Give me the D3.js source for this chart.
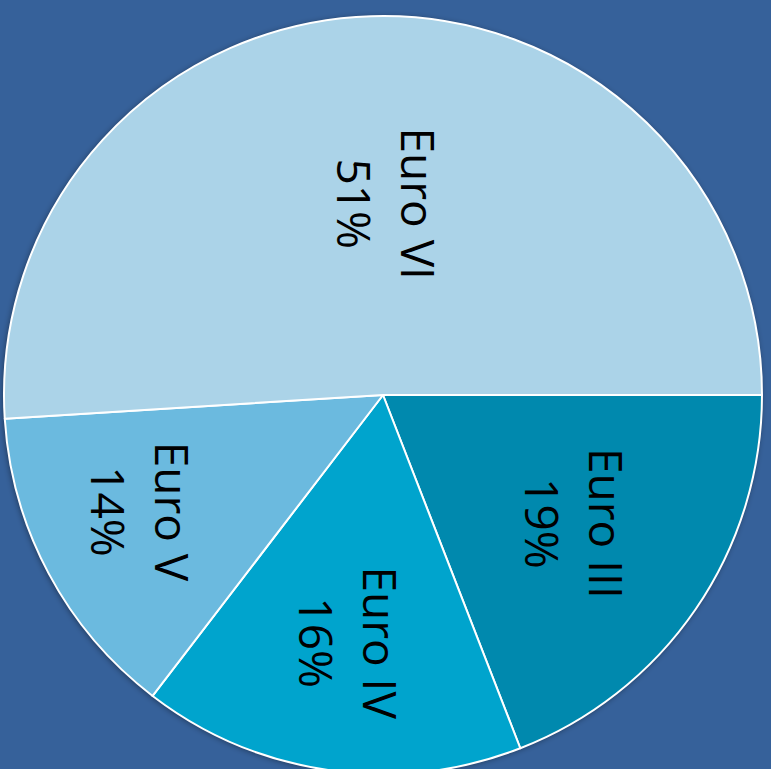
<!DOCTYPE html>
<html>
<head>
<meta charset="utf-8">
<script src="https://cdn.jsdelivr.net/npm/d3@7"></script>
<style>
  html, body { margin: 0; padding: 0; background: #36619a; }
  svg { display: block; }
</style>
</head>
<body>
<script>
var width = 771,
    height = 769;

// data, clockwise from 3 o'clock
var categories = ["Euro III", "Euro IV", "Euro V", "Euro VI"];
var shares = [19.1, 16.3, 13.6, 51.0];
var colors = ["#0089ae", "#00a4cd", "#6bbadf", "#abd3e8"];

// how far out each label sits (share of radius) and a small pixel nudge
var labelRadius = [0.60, 0.66, 0.72, 0.505];
var labelNudge = [[2, 0], [-1, 0], [-3, -12], [8, 0]];

var cx = 383,
    cy = 395,
    radius = 379,
    fontPx = 46,
    lineGap = 64;

var data = categories.map(function(c, i) {
    return { name: c, value: shares[i], color: colors[i], lr: labelRadius[i], nudge: labelNudge[i] };
});

var svg = d3.select("body").append("svg")
    .attr("width", width)
    .attr("height", height);

var defs = svg.append("defs");
var shadow = defs.append("filter")
    .attr("id", "shadow")
    .attr("x", "-10%").attr("y", "-10%")
    .attr("width", "120%").attr("height", "120%");
shadow.append("feDropShadow")
    .attr("dx", -1).attr("dy", 1)
    .attr("stdDeviation", 3)
    .attr("flood-color", "#000")
    .attr("flood-opacity", 0.45);

var pie = d3.pie()
    .sort(null)
    .value(function(d) { return d.value; })
    .startAngle(Math.PI / 2)
    .endAngle(Math.PI / 2 + 2 * Math.PI);

var arcs = pie(data);

var arc = d3.arc()
    .innerRadius(0)
    .outerRadius(radius);

var g = svg.append("g")
    .attr("transform", "translate(" + cx + "," + cy + ")");

// shadow behind the pie
g.append("circle")
    .attr("r", radius)
    .attr("fill", "#abd3e8")
    .attr("filter", "url(#shadow)");

g.selectAll("path")
    .data(arcs)
    .enter().append("path")
    .attr("d", arc)
    .style("fill", function(d) { return d.data.color; })
    .style("stroke", "#ffffff")
    .style("stroke-width", "2")
    .style("stroke-linejoin", "round");

var labels = g.selectAll("g.label")
    .data(arcs)
    .enter().append("g")
    .attr("class", "label")
    .attr("transform", function(d) {
        var la = d3.arc()
            .innerRadius(radius * d.data.lr)
            .outerRadius(radius * d.data.lr);
        var c = la.centroid(d);
        return "translate(" + (c[0] + d.data.nudge[0]) + "," + (c[1] + d.data.nudge[1]) + ") rotate(90)";
    });

var text = labels.append("text")
    .attr("text-anchor", "middle")
    .attr("font-family", "'Open Sans', 'DejaVu Sans', sans-serif")
    .attr("font-size", fontPx + "px")
    .attr("fill", "#000000");

text.append("tspan")
    .attr("x", 0)
    .attr("y", -lineGap / 2)
    .attr("dy", "0.35em")
    .text(function(d) { return d.data.name; });

text.append("tspan")
    .attr("x", 0)
    .attr("y", lineGap / 2)
    .attr("dy", "0.35em")
    .text(function(d) {
        var total = d3.sum(shares);
        return Math.round(d.data.value / total * 100) + "%";
    });
</script>
</body>
</html>
